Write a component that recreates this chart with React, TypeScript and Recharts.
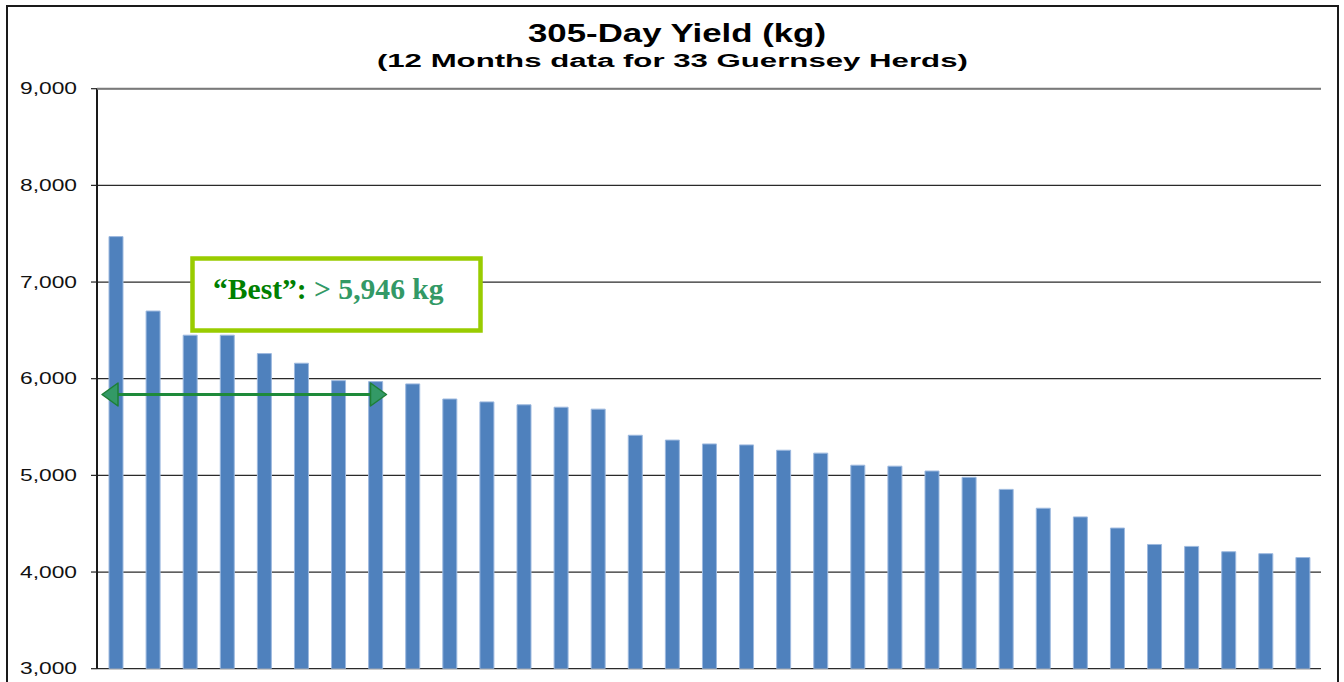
import React from "react";
import { BarChart, Bar, XAxis, YAxis, CartesianGrid } from "recharts";

const herds: string[] = Array.from({ length: 33 }, (_, i) => `Herd ${i + 1}`);
const yields: number[] = [
  7470, 6700, 6450, 6450, 6260, 6160, 5980, 5970, 5946, 5790, 5760, 5730, 5705,
  5685, 5415, 5365, 5325, 5315, 5260, 5230, 5105, 5095, 5045, 4980, 4855, 4660,
  4570, 4455, 4285, 4265, 4210, 4190, 4150,
];
const yTicks: number[] = [3000, 4000, 5000, 6000, 7000, 8000, 9000];
const titleLine1 = "305-Day Yield (kg)";
const titleLine2 = "(12 Months data for 33 Guernsey Herds)";
const bestLabel = "\u201CBest\u201D:";
const bestValue = "> 5,946 kg";

const data = herds.map((h, i) => ({ herd: h, yield: yields[i] }));

const W = 1344;
const H = 682;

const fmt = (v: number) => v.toLocaleString("en-US");

const YTick = (props: any) => {
  const { x, y, payload } = props;
  return (
    <text
      x={x}
      y={y}
      dy="0.36em"
      textAnchor="end"
      fontFamily="'Liberation Sans', Arial, sans-serif"
      fontSize={16}
      fill="#111"
      textLength={57}
      lengthAdjust="spacingAndGlyphs"
    >
      {fmt(payload.value)}
    </text>
  );
};

export default function App() {
  return (
    <div style={{ position: "absolute", left: 0, top: 0, width: W, height: H, background: "#fff" }}>
      <BarChart
        width={W}
        height={H}
        data={data}
        margin={{ top: 88.7, right: 23, left: 7, bottom: 13.3 }}
        barSize={14}
      >
        <CartesianGrid vertical={false} stroke="#2a2a2a" strokeWidth={1.2} />
        <XAxis
          dataKey="herd"
          height={0}
          tick={false}
          tickLine={false}
          axisLine={{ stroke: "#8a8a8a", strokeWidth: 2 }}
        />
        <YAxis
          domain={[3000, 9000]}
          ticks={yTicks}
          width={90}
          interval={0}
          tickSize={6}
          tickMargin={14}
          tick={<YTick />}
          tickLine={{ stroke: "#222", strokeWidth: 1.2 }}
          axisLine={{ stroke: "#1a1a1a", strokeWidth: 2 }}
          allowDataOverflow
        />
        <YAxis
          yAxisId="r"
          orientation="right"
          domain={[3000, 9000]}
          width={0}
          tick={false}
          tickLine={false}
          axisLine={{ stroke: "#8a8a8a", strokeWidth: 2 }}
        />
        <Bar
          dataKey="yield"
          fill="#4F81BD"
          stroke="#9DB9DF"
          strokeWidth={1}
          isAnimationActive={false}
        />
      </BarChart>
      <svg
        width={W}
        height={H}
        style={{ position: "absolute", left: 0, top: 0, pointerEvents: "none" }}
      >
        {/* outer frame */}
        <rect x={7} y={6} width={1331} height={700} fill="none" stroke="#1a1a1a" strokeWidth={2} />
        {/* plot top border */}
        <line x1={97} x2={1321} y1={88.7} y2={88.7} stroke="#7a7a7a" strokeWidth={2} />
        {/* titles */}
        <text
          x={677}
          y={42.3}
          textAnchor="middle"
          fontFamily="'Liberation Sans', Arial, sans-serif"
          fontWeight="bold"
          fontSize={26.5}
          fill="#000"
          textLength={298}
          lengthAdjust="spacingAndGlyphs"
        >
          {titleLine1}
        </text>
        <text
          x={672.4}
          y={66.7}
          textAnchor="middle"
          fontFamily="'Liberation Sans', Arial, sans-serif"
          fontWeight="bold"
          fontSize={18}
          fill="#000"
          textLength={591}
          lengthAdjust="spacingAndGlyphs"
        >
          {titleLine2}
        </text>
        {/* annotation box */}
        <rect x={192.5} y={258.5} width={288} height={72} fill="#fff" stroke="#99CC00" strokeWidth={4.5} />
        <text
          x={213}
          y={299.3}
          fontFamily="'Liberation Serif', 'Times New Roman', serif"
          fontWeight="bold"
          fontSize={29.6}
        >
          <tspan fill="#008000">{bestLabel}</tspan>
          <tspan fill="#339966">{" " + bestValue}</tspan>
        </text>
        {/* double-headed arrow */}
        <line x1={116} x2={372} y1={394.5} y2={394.5} stroke="#1E8A3A" strokeWidth={3} />
        <polygon
          points="102,394.5 118,383 118,406"
          fill="#339966"
          stroke="#1E7F36"
          strokeWidth={1.5}
          strokeLinejoin="round"
        />
        <polygon
          points="386.5,394.5 370.5,383 370.5,406"
          fill="#339966"
          stroke="#1E7F36"
          strokeWidth={1.5}
          strokeLinejoin="round"
        />
      </svg>
    </div>
  );
}
